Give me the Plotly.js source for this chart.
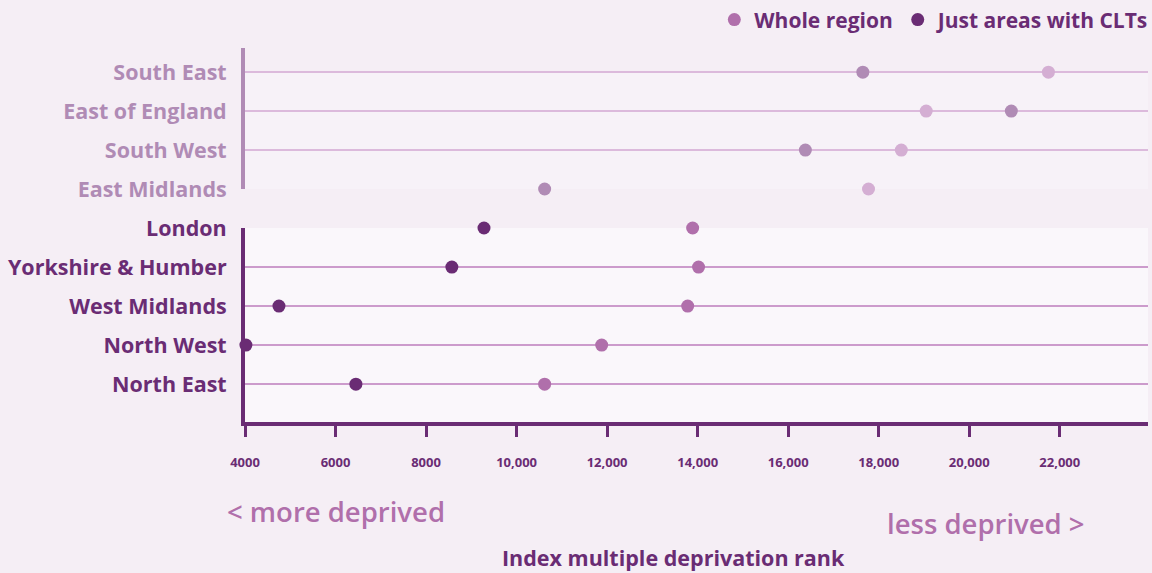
<!DOCTYPE html>
<html>
<head>
<meta charset="utf-8">
<script src="https://cdn.plot.ly/plotly-3.0.1.min.js"></script>
<style>html,body{margin:0;padding:0;background:#f5eef5;}#chart{width:1152px;height:573px;}</style>
</head>
<body>
<div id="chart"></div>
<script>
// Lower group (bottom to top)
const lowerRegions = ['North East', 'North West', 'West Midlands', 'Yorkshire & Humber', 'London'];
const lowerWhole = [10620, 11880, 13780, 14020, 13890];
const lowerCLT = [6450, 4020, 4750, 8570, 9280];

// Upper group (bottom to top)
const upperRegions = ['East Midlands', 'South West', 'East of England', 'South East'];
const upperWhole = [17775, 18500, 19050, 21750];
const upperCLT = [10620, 16380, 20930, 17650];

const xTickVals = [4000, 6000, 8000, 10000, 12000, 14000, 16000, 18000, 20000, 22000];
const xTickText = ['4000', '6000', '8000', '10,000', '12,000', '14,000', '16,000', '18,000', '20,000', '22,000'];

const DARK = '#6a2c74', WHOLE = '#b06fab', UP_CLT = '#b08bb5', UP_WHOLE = '#d4aed3';
const FONT = 'Open Sans, Noto Sans, sans-serif';

const traces = [
  {x: lowerWhole, y: lowerRegions, type: 'scatter', mode: 'markers', name: 'Whole region',
   marker: {color: WHOLE, size: 13}, xaxis: 'x', yaxis: 'y', cliponaxis: false},
  {x: lowerCLT, y: lowerRegions, type: 'scatter', mode: 'markers', name: 'Just areas with CLTs',
   marker: {color: DARK, size: 13}, xaxis: 'x', yaxis: 'y', cliponaxis: false},
  {x: upperWhole, y: upperRegions, type: 'scatter', mode: 'markers', name: 'Whole region',
   marker: {color: UP_WHOLE, size: 13}, xaxis: 'x', yaxis: 'y2', showlegend: false, cliponaxis: false},
  {x: upperCLT, y: upperRegions, type: 'scatter', mode: 'markers', name: 'Just areas with CLTs',
   marker: {color: UP_CLT, size: 13}, xaxis: 'x', yaxis: 'y2', showlegend: false, cliponaxis: false}
];

const layout = {
  width: 1152, height: 573,
  margin: {l: 245, r: 4, t: 48, b: 151, autoexpand: false},
  paper_bgcolor: '#f5eef5', plot_bgcolor: 'rgba(0,0,0,0)',
  font: {family: FONT, color: DARK},
  showlegend: true,
  legend: {orientation: 'h', x: 1.007, xanchor: 'right', y: 1.075, yanchor: 'middle',
           font: {family: FONT, size: 21, color: DARK, weight: 700}, bgcolor: 'rgba(0,0,0,0)',
           itemwidth: 30, traceorder: 'normal'},
  xaxis: {range: [4000, 23950], tickvals: xTickVals, ticktext: xTickText,
          showgrid: false, zeroline: false, showline: true, linecolor: DARK, linewidth: 4,
          ticks: 'outside', ticklen: 11, tickwidth: 3, tickcolor: DARK, ticklabelstandoff: 14,
          tickfont: {family: FONT, size: 13, color: DARK, weight: 700}, anchor: 'y', fixedrange: true},
  yaxis: {type: 'category', categoryorder: 'array', categoryarray: lowerRegions,
          domain: [0, 0.5187], range: [-0.97, 4], showgrid: true, gridcolor: '#cc9bcc', gridwidth: 1.5,
          showline: true, linecolor: DARK, linewidth: 4, ticks: '', ticklabelstandoff: 10,
          zeroline: false, tickfont: {family: FONT, size: 21.5, color: DARK, weight: 700}, anchor: 'x'},
  yaxis2: {type: 'category', categoryorder: 'array', categoryarray: upperRegions,
          domain: [0.623, 1.0], range: [0, 3.62], showgrid: true, gridcolor: '#dcbadc', gridwidth: 1.5,
          showline: true, linecolor: UP_CLT, linewidth: 4, ticks: '', ticklabelstandoff: 10,
          zeroline: false, tickfont: {family: FONT, size: 21.5, color: UP_CLT, weight: 700}, anchor: 'x'},
  shapes: [
    {type: 'rect', xref: 'x domain', yref: 'y domain', x0: 0, x1: 1, y0: 0, y1: 1,
     fillcolor: '#faf7fb', line: {width: 0}, layer: 'below'},
    {type: 'rect', xref: 'x domain', yref: 'y2 domain', x0: 0, x1: 1, y0: 0, y1: 0.829,
     fillcolor: '#f7f2f8', line: {width: 0}, layer: 'below'}
  ],
  annotations: [
    {text: '< more deprived', xref: 'paper', yref: 'paper', x: -0.0221, y: -0.2406,
     xanchor: 'left', yanchor: 'middle', showarrow: false,
     font: {family: FONT, size: 27.5, color: WHOLE, weight: 600}},
    {text: 'less deprived >', xref: 'paper', yref: 'paper', x: 0.7087, y: -0.2727,
     xanchor: 'left', yanchor: 'middle', showarrow: false,
     font: {family: FONT, size: 27.5, color: WHOLE, weight: 600}},
    {text: 'Index multiple deprivation rank', xref: 'paper', yref: 'paper', x: 0.474, y: -0.361,
     xanchor: 'center', yanchor: 'middle', showarrow: false,
     font: {family: FONT, size: 21.5, color: DARK, weight: 700}}
  ]
};

Plotly.newPlot('chart', traces, layout, {displayModeBar: false, staticPlot: true});
</script>
</body>
</html>
